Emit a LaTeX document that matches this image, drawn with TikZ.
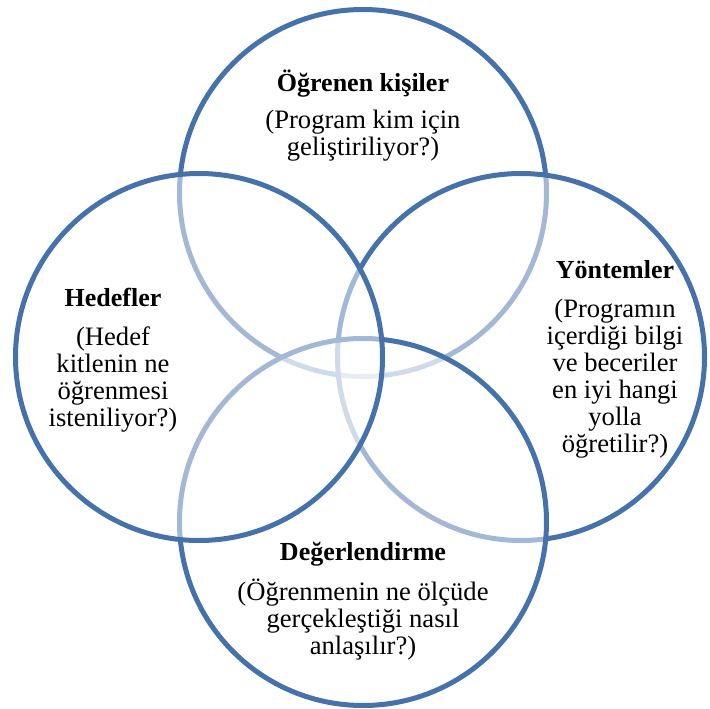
\documentclass[tikz,border=0pt]{standalone}
\usepackage{fontspec}
\setmainfont{Liberation Serif}
\definecolor{ringblue}{RGB}{69,114,170}
\begin{document}
\begin{tikzpicture}[x=1pt,y=-1pt,
  ring/.style={circle, inner sep=0pt, outer sep=0pt, minimum size=367pt,
    draw=ringblue, line width=5pt, fill=white, fill opacity=0.5, draw opacity=1},
  head/.style={font=\fontsize{26}{27}\selectfont\bfseries, anchor=base, inner sep=0pt},
  % multi-line bodies are placed by the baseline of their last line
  body/.style={font=\fontsize{26.6}{27}\selectfont, align=center, anchor=base, inner sep=0pt}]
  \useasboundingbox (0,0) rectangle (710,709);
  % rings, drawn back to front: each translucent fill softens the outlines below it
  \node[ring] (top)    at (363,193) {};
  \node[ring] (right)  at (521,357) {};
  \node[ring] (bottom) at (363,522) {};
  \node[ring] (left)   at (199,357) {};
  % labels
  \node[head] (topH) at (363,92) {Öğrenen kişiler};
  \node[body] (topB) at (363,155) {(Program kim için\\geliştiriliyor?)};
  \node[head] (leftH) at (113,306) {Hedefler};
  \node[body] (leftB) at (113,426) {(Hedef\\kitlenin ne\\öğrenmesi\\isteniliyor?)};
  \node[head] (rightH) at (615,278) {Yöntemler};
  \node[body] (rightB) at (615,452) {(Programın\\içerdiği bilgi\\ve beceriler\\en iyi hangi\\yolla\\öğretilir?)};
  \node[head] (bottomH) at (363,560) {Değerlendirme};
  \node[body] (bottomB) at (363,654) {(Öğrenmenin ne ölçüde\\gerçekleştiği nasıl\\anlaşılır?)};
\end{tikzpicture}
\end{document}
